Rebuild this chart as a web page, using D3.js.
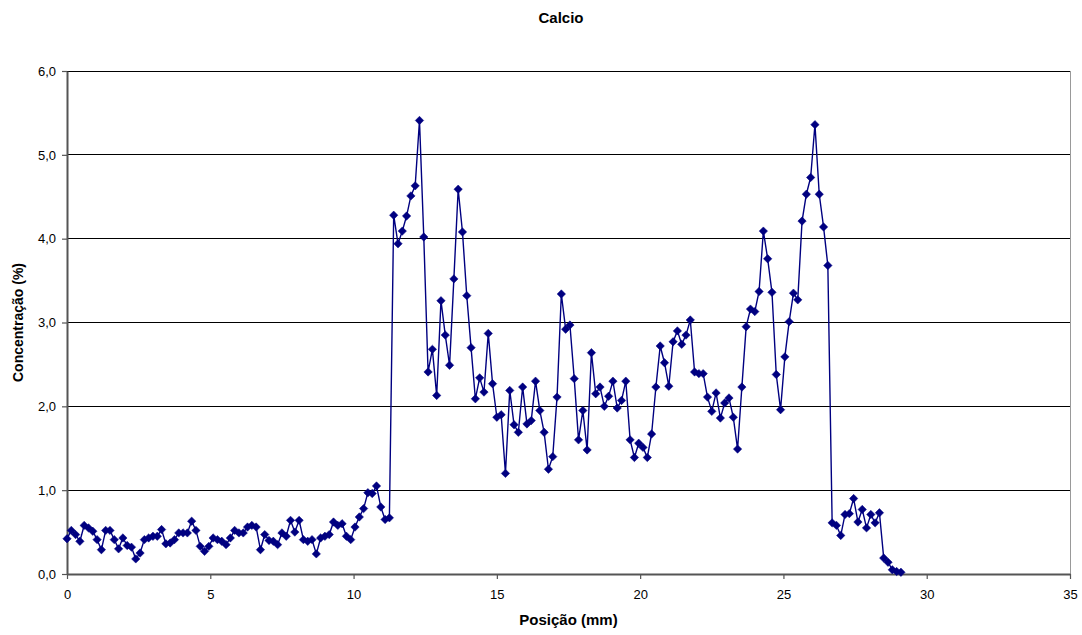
<!DOCTYPE html>
<html>
<head>
<meta charset="utf-8">
<script src="https://cdn.jsdelivr.net/npm/d3@7"></script>
<style>
    body { margin: 0; background: #fff; }
    text { font-family: "Liberation Sans", Arial, sans-serif; }
</style>
</head>
<body>
<script>
var width = 1082,
    height = 635;

// sample spacing along the profile (mm)
var step = 0.15;

// calcium concentration (%) for each sample
var concentration = [
    0.42, 0.52, 0.47, 0.39, 0.58, 0.55, 0.51, 0.41, 0.29, 0.52,
    0.52, 0.41, 0.30, 0.43, 0.34, 0.32, 0.18, 0.25, 0.41, 0.43,
    0.45, 0.45, 0.53, 0.36, 0.37, 0.41, 0.49, 0.49, 0.49, 0.63,
    0.52, 0.33, 0.27, 0.33, 0.43, 0.41, 0.39, 0.35, 0.43, 0.52,
    0.49, 0.49, 0.56, 0.58, 0.56, 0.29, 0.47, 0.40, 0.39, 0.35,
    0.49, 0.45, 0.64, 0.50, 0.64, 0.41, 0.39, 0.41, 0.24, 0.43,
    0.45, 0.47, 0.62, 0.58, 0.60, 0.45, 0.41, 0.56, 0.68, 0.78,
    0.97, 0.96, 1.05, 0.80, 0.65, 0.67, 4.28, 3.94, 4.09, 4.27,
    4.51, 4.63, 5.41, 4.02, 2.41, 2.68, 2.13, 3.26, 2.85, 2.49,
    3.52, 4.59, 4.08, 3.32, 2.70, 2.09, 2.34, 2.17, 2.87, 2.27,
    1.87, 1.90, 1.20, 2.19, 1.78, 1.69, 2.23, 1.79, 1.83, 2.30,
    1.95, 1.69, 1.25, 1.40, 2.11, 3.34, 2.92, 2.97, 2.33, 1.60,
    1.95, 1.48, 2.64, 2.15, 2.23, 2.00, 2.12, 2.30, 1.98, 2.07,
    2.30, 1.60, 1.39, 1.56, 1.51, 1.39, 1.67, 2.23, 2.72, 2.52,
    2.24, 2.77, 2.90, 2.74, 2.85, 3.03, 2.41, 2.39, 2.39, 2.11,
    1.94, 2.16, 1.86, 2.04, 2.10, 1.87, 1.49, 2.23, 2.95, 3.16,
    3.13, 3.37, 4.09, 3.76, 3.36, 2.38, 1.96, 2.59, 3.01, 3.35,
    3.27, 4.21, 4.53, 4.73, 5.36, 4.53, 4.14, 3.68, 0.61, 0.58,
    0.46, 0.71, 0.72, 0.90, 0.62, 0.77, 0.55, 0.71, 0.61, 0.73,
    0.19, 0.14, 0.05, 0.03, 0.02
];

var xTicks = [0, 5, 10, 15, 20, 25, 30, 35];
var yTicks = [0, 1, 2, 3, 4, 5, 6];

var data = concentration.map(function (v, i) {
    return { x: +(i * step).toFixed(2), y: v };
});

var margin = { top: 71, right: 12, bottom: 61, left: 67 };

var x = d3.scaleLinear().domain([0, 35]).range([margin.left, width - margin.right]);
var y = d3.scaleLinear().domain([0, 6]).range([height - margin.bottom, margin.top]);

var fmtY = function (d) { return d3.format(".1f")(d).replace(".", ","); };

var svg = d3.select("body").append("svg")
    .attr("width", width)
    .attr("height", height);

// gridlines
svg.append("g").attr("class", "grid")
    .selectAll("line")
    .data(yTicks.filter(function (d) { return d > 0; }))
    .enter()
    .append("line")
    .attr("x1", x(0))
    .attr("x2", x(35))
    .attr("y1", function (d) { return y(d); })
    .attr("y2", function (d) { return y(d); })
    .attr("stroke", "#000")
    .attr("stroke-width", 1)
    .attr("shape-rendering", "crispEdges");

// right border of plot area
svg.append("line")
    .attr("x1", x(35)).attr("x2", x(35))
    .attr("y1", y(6)).attr("y2", y(0))
    .attr("stroke", "#999")
    .attr("stroke-width", 1)
    .attr("shape-rendering", "crispEdges");

// axes
var xAxis = svg.append("g")
    .attr("transform", "translate(0," + y(0) + ")")
    .call(d3.axisBottom(x).tickValues(xTicks).tickSize(5).tickPadding(11).tickSizeOuter(0));

var yAxis = svg.append("g")
    .attr("transform", "translate(" + x(0) + ",0)")
    .call(d3.axisLeft(y).tickValues(yTicks).tickFormat(fmtY).tickSize(5).tickPadding(6).tickSizeOuter(0));

[xAxis, yAxis].forEach(function (a) {
    a.select(".domain").attr("stroke", "#555").attr("stroke-width", 2);
    a.selectAll(".tick line").attr("stroke", "#555").attr("stroke-width", 1.2);
    a.selectAll(".tick text")
        .attr("fill", "#000")
        .style("font-family", "'Liberation Sans', Arial, sans-serif")
        .style("font-size", "13px");
});

// series line
var line = d3.line()
    .x(function (d) { return x(d.x); })
    .y(function (d) { return y(d.y); });

svg.append("path")
    .datum(data)
    .attr("fill", "none")
    .attr("stroke", "#000080")
    .attr("stroke-width", 1.4)
    .attr("d", line);

// diamond markers
svg.append("g").attr("class", "markers")
    .selectAll("path")
    .data(data)
    .enter()
    .append("path")
    .attr("transform", function (d) {
        return "translate(" + x(d.x) + "," + y(d.y) + ")";
    })
    .attr("d", "M0,-4.2L4.2,0L0,4.2L-4.2,0Z")
    .attr("fill", "#000080")
    .attr("stroke", "#000080")
    .attr("stroke-width", 0.5);

// titles
svg.append("text")
    .attr("x", 561)
    .attr("y", 23)
    .attr("text-anchor", "middle")
    .style("font-size", "15px")
    .style("font-weight", "bold")
    .text("Calcio");

svg.append("text")
    .attr("x", (x(0) + x(35)) / 2)
    .attr("y", 625)
    .attr("text-anchor", "middle")
    .style("font-size", "15px")
    .style("font-weight", "bold")
    .text("Posição (mm)");

svg.append("text")
    .attr("transform", "translate(23," + (y(0) + y(6)) / 2 + ") rotate(-90)")
    .attr("text-anchor", "middle")
    .style("font-size", "14px")
    .style("font-weight", "bold")
    .text("Concentração (%)");
</script>
</body>
</html>
